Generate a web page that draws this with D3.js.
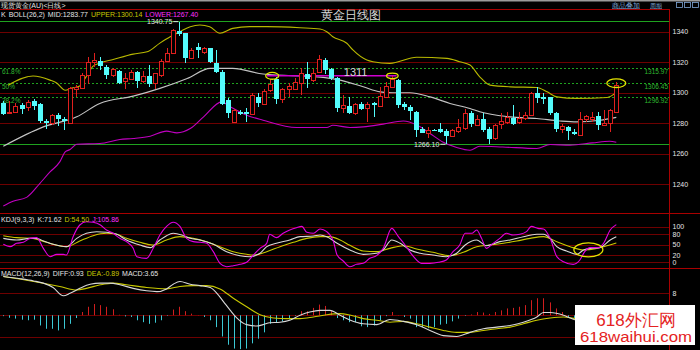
<!DOCTYPE html>
<html>
<head>
<meta charset="utf-8">
<script src="https://cdn.jsdelivr.net/npm/d3@7"></script>
<style>
  body { margin: 0; background: #000; }
  text { font-family: 'Liberation Sans', Arial, sans-serif; }
</style>
</head>
<body>
<div id="chart"></div>
<script>
// ---- data ----
const open  = [1293.3,1286.5,1287.2,1291.8,1290.3,1294.6,1292.2,1281.2,1279.7,1285.2,1282.8,1279.7,1302.3,1302.8,1311.5,1319.9,1320.9,1317.0,1311.5,1314.3,1307.6,1309.3,1313.7,1307.6,1310.9,1306.1,1311.5,1320.9,1325.8,1340.5,1338.9,1322.7,1329.7,1326.8,1329.3,1319.6,1313.7,1295.1,1280.8,1287.4,1287.0,1285.7,1296.8,1292.9,1301.6,1308.7,1295.5,1302.1,1302.8,1306.1,1312.2,1308.7,1313.0,1321.4,1315.3,1309.3,1289.6,1291.1,1286.7,1292.4,1289.6,1292.9,1291.1,1297.2,1303.4,1308.2,1292.4,1290.3,1287.4,1276.4,1273.2,1275.3,1276.0,1274.9,1271.4,1274.2,1276.4,1286.3,1279.3,1283.0,1276.4,1269.9,1279.7,1280.1,1283.4,1280.8,1283.0,1285.2,1299.9,1296.8,1296.8,1286.7,1275.8,1277.1,1274.2,1272.0,1282.4,1282.9,1284.5,1278.6,1280.1,1287.4];
const high  = [1294.4,1294.4,1293.1,1293.3,1295.1,1295.5,1293.1,1282.8,1285.7,1286.5,1284.1,1303.8,1304.9,1312.6,1323.6,1326.2,1323.2,1318.1,1315.9,1314.8,1312.6,1314.8,1314.3,1314.3,1318.1,1313.0,1321.8,1329.3,1341.8,1346.6,1339.1,1329.3,1332.4,1329.9,1329.6,1328.0,1314.8,1296.4,1289.0,1288.5,1289.8,1299.9,1299.9,1302.1,1308.9,1310.4,1302.8,1306.4,1309.3,1315.9,1320.3,1315.3,1324.7,1322.5,1315.9,1310.0,1298.4,1296.8,1293.3,1293.9,1293.9,1293.9,1303.8,1307.1,1310.9,1308.7,1293.9,1291.8,1288.0,1277.5,1277.5,1276.0,1280.1,1275.8,1276.0,1283.0,1289.1,1288.0,1285.2,1286.3,1277.5,1279.7,1286.3,1287.4,1291.8,1287.4,1287.4,1300.5,1303.4,1299.9,1297.2,1287.4,1279.3,1278.0,1275.8,1287.4,1285.2,1287.4,1287.4,1288.5,1289.0,1307.1];
const low   = [1285.2,1286.0,1286.5,1285.8,1288.0,1288.9,1280.1,1276.4,1278.6,1278.0,1275.3,1279.3,1297.2,1302.3,1305.4,1317.0,1314.8,1308.7,1310.4,1305.4,1302.1,1308.2,1303.2,1306.1,1303.8,1302.1,1310.4,1320.4,1325.3,1337.2,1319.4,1322.4,1322.5,1325.3,1319.4,1312.8,1291.8,1283.2,1280.5,1285.2,1280.8,1285.2,1290.3,1292.4,1300.3,1292.4,1292.9,1297.2,1302.1,1298.4,1302.8,1307.1,1312.6,1312.2,1308.2,1287.4,1286.3,1285.9,1285.2,1288.5,1280.8,1284.1,1290.7,1296.2,1302.8,1289.6,1288.5,1281.9,1270.9,1273.2,1269.9,1274.6,1273.2,1266.1,1270.7,1273.2,1275.3,1277.5,1278.6,1274.2,1266.4,1269.2,1276.4,1279.3,1278.6,1279.7,1281.9,1284.5,1292.9,1292.4,1285.2,1274.2,1273.2,1268.8,1272.0,1271.4,1280.8,1280.8,1275.3,1278.0,1274.2,1287.0];
const close = [1285.8,1287.0,1291.1,1289.1,1293.9,1291.1,1281.2,1279.7,1285.2,1282.4,1281.4,1302.8,1303.8,1311.5,1319.9,1321.4,1317.4,1312.0,1315.5,1306.1,1309.7,1313.7,1307.6,1310.9,1305.4,1312.6,1320.9,1326.2,1341.1,1338.3,1322.5,1328.0,1327.5,1329.1,1319.9,1313.7,1292.9,1286.3,1288.9,1286.3,1285.9,1298.4,1292.9,1301.2,1305.6,1295.7,1302.1,1304.3,1307.1,1312.6,1308.7,1313.0,1321.8,1314.8,1309.3,1289.6,1291.8,1286.7,1292.4,1289.1,1292.4,1291.3,1297.7,1304.3,1308.7,1291.8,1290.3,1287.4,1275.3,1273.6,1275.3,1275.0,1274.2,1271.4,1275.3,1277.1,1286.3,1279.3,1283.0,1275.8,1269.9,1278.6,1281.4,1283.7,1279.7,1283.4,1285.2,1299.9,1296.8,1295.7,1286.3,1276.4,1278.0,1274.2,1272.7,1282.4,1284.5,1283.9,1278.6,1280.1,1288.5,1304.9];

// BOLL(26,2) bands as [candle index, price]
const bollUpper = [[0.8,1304.9],[4.9,1310.9],[7.7,1308.2],[8.8,1306.3],[10.2,1301.6],[11.3,1303.0],[12.6,1304.3],[13.8,1311.5],[14.8,1317.4],[15.9,1319.4],[18.1,1321.8],[21.4,1325.3],[23.7,1326.8],[25.8,1332.5],[27.5,1336.7],[29.1,1340.0],[30.8,1343.3],[32.4,1344.4],[34.0,1343.3],[35.7,1339.0],[37.8,1342.2],[40.6,1343.3],[43.4,1343.3],[48.9,1342.6],[52.2,1341.8],[53.3,1340.0],[54.3,1336.7],[56.6,1332.4],[57.6,1328.0],[59.9,1321.4],[60.9,1320.3],[63.7,1319.2],[68.1,1323.2],[73.1,1322.5],[75.2,1320.3],[76.9,1318.1],[78.5,1310.4],[80.2,1304.9],[83.5,1303.8],[87.9,1303.4],[89.6,1300.5],[91.2,1297.2],[94.5,1296.2],[99.5,1296.8],[101,1300.14]];
const bollMid = [[0,1264.8],[6.6,1277.5],[12.1,1284.1],[15.9,1292.9],[21.4,1297.7],[25.8,1302.8],[30.3,1309.3],[34.1,1315.9],[37.8,1315.9],[42.8,1312.2],[52.7,1310.0],[55.5,1308.2],[59.3,1303.8],[62.1,1300.5],[64.2,1299.9],[67.0,1299.9],[70.3,1297.2],[73.6,1292.9],[76.9,1289.6],[78.5,1287.4],[83.5,1284.1],[87.9,1283.0],[91.7,1281.4],[94.5,1280.8],[98.3,1281.9],[101,1283.77]];
const bollLower = [[0,1225.5],[1.6,1228.6],[3.9,1231.4],[6.0,1240.3],[7.7,1247.9],[9.3,1254.5],[10.2,1261.1],[11.0,1262.6],[12.1,1266.1],[15.9,1266.6],[19.2,1269.2],[21.4,1269.9],[24.2,1271.4],[26.9,1274.7],[28.6,1273.6],[30.8,1276.4],[33.0,1284.1],[36.0,1293.9],[37.4,1290.7],[40.1,1285.2],[42.8,1281.9],[48.3,1277.1],[53.3,1277.1],[54.3,1278.6],[57.1,1277.1],[59.3,1277.5],[62.6,1279.3],[65.9,1281.4],[68.2,1278.6],[70.3,1273.2],[72.4,1267.6],[74.7,1264.0],[76.9,1262.2],[78.5,1264.8],[82.3,1264.3],[87.9,1263.3],[90.1,1265.9],[93.4,1265.5],[97.1,1267.0],[99.9,1268.1],[101,1267.40]];

const fibNames  = ['61.8%', '50%', '38.2%'];
const fibLevels = [1315.97, 1306.45, 1296.92];
const resistance = 1311;               // magenta line, candle 43.4 .. 64.8
const resistanceSpan = [43.4, 64.8];
const extremeLabels = [{ i: 29, text: '1340.75', at: 'high' }, { i: 73, text: '1266.10', at: 'low' }];

const priceTicks = [1240, 1260, 1280, 1300, 1320, 1340];
const kdjTicks = [0, 20, 50, 80, 100];
const macdTicks = [-8, 0, 8];
const macdLabels = [8];   // the other labels sit under the watermark

// KDJ(9,3,3) as [candle index, value]
const kLine = [[0,67.3],[2.2,62.6],[4.4,67.3],[5.5,67.3],[6.6,59.8],[8.2,50.5],[10.4,43.9],[12.1,67.3],[13.7,81.4],[15.4,86.0],[17.0,84.2],[18.7,78.6],[20.3,62.6],[22.5,48.6],[24.2,41.1],[25.8,62.6],[26.9,74.8],[28.0,81.4],[29.4,76.7],[30.8,67.3],[32.4,62.6],[34.6,50.5],[36.8,29.9],[39.0,18.6],[40.6,15.8],[42.3,25.2],[43.4,43.9],[45.0,53.3],[47.2,62.6],[48.9,72.0],[51.1,73.9],[52.2,76.7],[53.3,72.0],[55.0,53.3],[57.1,34.6],[59.3,22.4],[61.5,25.2],[62.6,34.6],[64.0,62.6],[65.4,53.3],[67.0,34.6],[68.7,25.2],[70.8,20.5],[73.0,15.8],[74.7,25.2],[76.1,48.6],[78.0,62.6],[79.6,46.7],[81.8,58.0],[83.5,62.6],[85.7,72.0],[87.9,78.6],[89.0,78.6],[90.1,67.3],[91.2,43.9],[92.8,31.7],[94.5,22.4],[95.6,34.6],[96.7,39.2],[98.3,41.1],[100.0,62.6],[101,71.62]];
const dLine = [[0,74.8],[2.2,69.2],[4.9,67.3],[7.1,56.1],[10.4,43.9],[12.6,59.8],[14.8,74.8],[17.0,81.4],[18.7,78.6],[20.3,67.3],[22.5,56.1],[24.7,48.6],[26.9,62.6],[29.1,72.0],[31.3,67.3],[33.5,58.0],[35.7,43.9],[37.9,29.9],[40.1,22.4],[41.2,20.5],[43.4,29.9],[45.6,43.9],[47.8,56.1],[50.0,67.3],[52.2,72.0],[53.8,72.0],[55.5,62.6],[57.1,47.7],[59.3,31.7],[61.5,29.9],[63.7,39.2],[65.9,46.7],[68.1,37.4],[70.8,28.0],[73.6,18.6],[75.8,28.0],[78.0,43.9],[80.2,48.6],[82.4,53.3],[84.6,59.8],[86.8,67.3],[89.0,72.0],[91.2,58.0],[93.4,43.9],[95.6,34.6],[97.8,39.2],[98.9,43.9],[101,54.5]];
const jLine = [[0,50.5],[1.1,43.9],[2.2,53.3],[3.3,56.1],[4.4,67.3],[5.5,69.2],[6.6,39.2],[7.7,15.8],[8.8,22.4],[9.9,22.4],[10.4,20.5],[11.5,72.0],[12.6,104.8],[13.7,114.0],[14.8,112.3],[16.0,104.8],[17.0,90.8],[18.1,81.4],[19.2,67.3],[20.3,58.0],[21.4,39.2],[22.0,15.8],[23.6,11.1],[24.7,39.2],[25.8,76.7],[26.9,100.8],[28.0,112.3],[29.1,100.8],[30.2,67.3],[31.3,58.0],[32.4,56.1],[33.5,53.3],[34.6,29.9],[35.7,-2.9],[36.8,-12.3],[37.9,-9.5],[39.0,-5.7],[40.1,-0.1],[41.2,20.5],[42.3,39.2],[43.4,53.3],[43.9,78.6],[45.0,69.2],[46.1,81.4],[47.2,90.8],[48.3,97.3],[49.2,100.8],[50.0,84.2],[51.1,81.4],[52.2,93.5],[53.3,86.0],[54.4,58.0],[55.0,20.5],[56.0,3.7],[57.1,-12.3],[58.2,-5.7],[59.3,-2.9],[60.4,11.1],[61.5,18.6],[62.6,39.2],[64.0,95.4],[65.1,72.0],[66.2,48.6],[67.6,15.8],[68.9,-2.9],[70.3,-2.9],[71.7,-0.1],[73.0,6.5],[74.1,29.9],[75.2,48.6],[76.1,81.4],[77.2,81.4],[78.0,90.8],[78.8,67.3],[79.6,39.2],[80.7,53.3],[81.8,67.3],[82.9,81.4],[84.0,76.7],[85.1,78.6],[86.2,86.0],[87.0,100.8],[88.1,95.4],[89.0,93.5],[90.1,67.3],[91.2,15.8],[92.3,1.8],[93.9,-5.7],[95.0,6.5],[95.8,29.9],[96.7,41.1],[98.0,41.1],[98.9,53.3],[100.0,90.8],[101,105.86]];

// MACD(12,26,9)
const diffLine = [[0,14.1],[2.8,13.3],[5.0,12.5],[6.6,11.7],[8.2,10.1],[9.9,7.1],[11.0,8.0],[12.6,9.8],[14.3,11.3],[16.0,11.7],[17.6,11.7],[19.2,11.1],[21.4,9.8],[23.6,8.9],[25.3,8.6],[26.9,9.6],[28.0,11.3],[29.1,12.3],[30.8,11.3],[32.4,10.8],[34.1,10.1],[35.2,8.0],[36.3,4.9],[37.4,1.8],[38.5,-1.0],[40.1,-3.4],[41.7,-3.9],[42.8,-3.4],[43.9,-2.7],[45.6,-2.5],[47.2,-1.8],[48.9,0.0],[50.5,1.2],[52.2,1.8],[53.8,1.8],[55.5,0.0],[57.1,-1.7],[59.3,-3.1],[61.5,-3.4],[63.7,-1.5],[65.9,-2.2],[68.1,-3.4],[70.3,-5.5],[72.5,-7.4],[74.7,-7.7],[76.9,-6.2],[79.1,-4.9],[81.3,-4.3],[83.5,-3.7],[85.7,-2.5],[87.9,-0.6],[89.0,1.0],[90.1,1.0],[92.3,0.0],[93.4,-1.0],[94.5,-1.8],[101,0.93]];
const deaLine = [[0,14.1],[5.0,12.3],[9.3,10.5],[12.1,9.2],[13.7,9.8],[16.0,11.1],[18.1,11.7],[20.3,11.1],[23.6,10.1],[26.9,9.6],[29.1,10.5],[31.3,10.8],[33.5,10.8],[35.7,9.6],[37.9,6.2],[40.1,3.1],[42.3,0.2],[44.5,-1.0],[46.7,-1.2],[48.9,-1.2],[51.1,-0.6],[53.3,0.2],[55.5,0.6],[57.1,0.1],[59.3,-1.2],[61.5,-1.8],[63.7,-2.5],[65.9,-2.2],[68.1,-3.1],[70.3,-4.3],[72.5,-5.5],[74.7,-6.2],[76.9,-6.2],[79.1,-5.5],[81.3,-4.9],[83.5,-4.3],[85.7,-3.1],[87.9,-1.8],[90.1,-1.0],[92.3,-0.6],[94.5,-1.2],[101,-0.89]];
// histogram per candle; the last few hide behind the watermark
const macdHist = [-0.3,-0.9,-1.2,-1.6,-1.8,-1.6,-3.7,-4.9,-4.9,-5.5,-4.9,-3.1,-1.0,1.2,3.1,4.1,3.7,3.1,2.2,0.2,-0.4,-0.6,-1.8,-2.5,-3.1,-2.7,-1.8,-0.2,2.1,3.1,1.5,0.6,0.1,-0.6,-1.8,-4.3,-7.7,-10.7,-12.1,-12.3,-12.1,-10.2,-8.5,-6.2,-3.1,-2.5,-2.2,-1.5,-0.2,1.5,1.5,2.7,3.9,3.4,1.5,-1.0,-1.8,-2.5,-2.5,-4.0,-4.3,-3.7,-1.8,-0.3,1.2,0.1,-0.6,-1.2,-4.3,-4.3,-4.7,-4.3,-3.4,-3.1,-2.2,-1.2,-0.2,0.3,1.2,1.0,0.5,1.2,1.8,2.5,2.7,3.1,3.7,5.5,6.2,6.2,4.7,2.5,1.2,-0.6,-1.2,null,null,null,null,null,null,3.65];

// yellow marker ellipses: [candle index, value, rx, ry, panel]
const markers = [[44.3, 1311, 6.5, 3.4, 'main'], [64.1, 1311, 5.8, 2.8, 'main'], [101, 1306.2, 9.5, 4.3, 'main'], [96.4, 35, 14.5, 7, 'kdj']];

// ---- layout ----
const W = 700, H = 350;
const AX = 669.5;
const C = {
  red: '#e0201e', cyan: '#54fcfc', grid: '#6e0000', sep: '#a80000',
  white: '#e4e4e4', yellow: '#c8c800', magenta: '#e000e0', green: '#1fa31f', greenText: '#2fb82f',
};

const x = d3.scaleLinear().domain([0, 101]).range([3.3, 616.3]);
const yP = d3.scaleLinear().domain([1240, 1340]).range([184, 31.7]);
const yK = d3.scaleLinear().domain([0, 100]).range([262.3, 226.7]);
const yM = d3.scaleLinear().domain([-8, 8]).range([337.3, 293.3]);

const svg = d3.select('#chart').append('svg')
  .attr('width', W).attr('height', H)
  .style('display', 'block');
svg.append('rect').attr('width', W).attr('height', H).attr('fill', '#000');

const defs = svg.append('defs');
defs.append('clipPath').attr('id', 'clipMain').append('rect')
  .attr('x', 0).attr('y', 10).attr('width', AX).attr('height', 203);
defs.append('clipPath').attr('id', 'clipKdj').append('rect')
  .attr('x', 0).attr('y', 214).attr('width', AX).attr('height', 54);
defs.append('clipPath').attr('id', 'clipMacd').append('rect')
  .attr('x', 0).attr('y', 269).attr('width', AX).attr('height', 81);

const hline = (y, x2, color, g = svg) => g.append('line')
  .attr('x1', 0).attr('x2', x2)
  .attr('y1', Math.round(y) + 0.5).attr('y2', Math.round(y) + 0.5)
  .attr('stroke', color).attr('stroke-width', 1);

// top strip + header
svg.append('rect').attr('width', W).attr('height', 1.5).attr('fill', '#9a9a9a');
svg.append('text').attr('x', 1).attr('y', 8)
  .attr('font-size', 7).attr('fill', C.white)
  .attr('font-family', "'Noto Sans CJK SC', sans-serif")
  .text('现货黄金(AU)<日线>');
svg.append('text').attr('x', 612).attr('y', 7.5)
  .attr('font-size', 7).attr('fill', '#7ea6d6')
  .attr('font-family', "'Noto Sans CJK SC', sans-serif")
  .attr('text-decoration', 'underline').text('商品叠加');
svg.append('text').attr('x', 650).attr('y', 7.5)
  .attr('font-size', 6).attr('fill', '#7ea6d6')
  .attr('font-family', "'Noto Sans CJK SC', sans-serif")
  .attr('text-decoration', 'underline').text('周期');
[676, 684, 692].forEach(bx => {
  svg.append('rect').attr('x', bx + 0.5).attr('y', 2.5).attr('width', 6).attr('height', 5)
    .attr('fill', 'none').attr('stroke', '#7ea6d6').attr('stroke-width', 0.8);
});

// grid and panel separators
hline(9, AX, C.sep);
priceTicks.forEach(t => hline(yP(t), AX, C.grid));
kdjTicks.forEach(t => hline(yK(t), AX, C.grid));
macdTicks.forEach(t => hline(yM(t), AX, C.grid));
hline(213, W, C.sep);
hline(268, W, C.sep);
svg.append('line').attr('x1', AX).attr('x2', AX).attr('y1', 9).attr('y2', H)
  .attr('stroke', C.sep);

// right axes
const styleAxis = g => {
  g.select('.domain').remove();
  g.selectAll('text').attr('fill', C.white).attr('font-size', 7)
    .attr('font-family', "'Liberation Sans', Arial, sans-serif");
};
const fmt = d3.format('d');
svg.append('g').attr('transform', `translate(${AX},0)`)
  .call(d3.axisRight(yP).tickValues(priceTicks).tickFormat(fmt).tickSize(0).tickPadding(3)).call(styleAxis);
svg.append('g').attr('transform', `translate(${AX},0)`)
  .call(d3.axisRight(yK).tickValues(kdjTicks).tickFormat(fmt).tickSize(0).tickPadding(3)).call(styleAxis);
svg.append('g').attr('transform', `translate(${AX},0)`)
  .call(d3.axisRight(yM).tickValues(macdLabels).tickFormat(fmt).tickSize(0).tickPadding(3)).call(styleAxis);

// ---- main panel ----
const main = svg.append('g').attr('clip-path', 'url(#clipMain)');

// extreme lines
hline(yP(d3.max(high)) - 1, AX, C.green, main);
hline(yP(d3.min(low)), AX, C.green, main);

// fibonacci dotted levels
fibLevels.forEach((lv, k) => {
  const yy = Math.round(yP(lv)) + 0.5;
  main.append('line').attr('x1', 0).attr('x2', AX).attr('y1', yy).attr('y2', yy)
    .attr('stroke', C.green).attr('stroke-dasharray', '2,2');
  main.append('text').attr('x', 2).attr('y', yy + 5)
    .attr('font-size', 6.5).attr('fill', C.greenText).text(fibNames[k]);
  main.append('text').attr('x', AX - 1.5).attr('y', yy + 5)
    .attr('text-anchor', 'end').attr('font-size', 6.5).attr('fill', C.greenText)
    .text(lv.toFixed(2));
});

// bollinger bands
const bandLine = d3.line().x(d => x(d[0])).y(d => yP(d[1])).curve(d3.curveMonotoneX);
[[bollUpper, '#b8b800'], [bollMid, '#c4c4c4'], [bollLower, '#c000c0']].forEach(([data, col]) => {
  main.append('path').attr('d', bandLine(data))
    .attr('fill', 'none').attr('stroke', col).attr('stroke-width', 1.1);
});

// resistance line
main.append('line')
  .attr('x1', x(resistanceSpan[0])).attr('x2', x(resistanceSpan[1]))
  .attr('y1', yP(resistance)).attr('y2', yP(resistance))
  .attr('stroke', '#d000d0').attr('stroke-width', 1.5);

// candles: red hollow when up, cyan filled when down
const candles = d3.range(open.length).map(i => ({ i, o: open[i], h: high[i], l: low[i], c: close[i] }));
const cg = main.append('g').attr('shape-rendering', 'crispEdges');
candles.forEach(d => {
  const cx = Math.round(x(d.i));
  const up = d.c >= d.o;
  const top = yP(Math.max(d.o, d.c)), bot = yP(Math.min(d.o, d.c));
  if (up) {
    cg.append('line').attr('x1', cx + 0.5).attr('x2', cx + 0.5)
      .attr('y1', yP(d.h)).attr('y2', top).attr('stroke', C.red);
    cg.append('line').attr('x1', cx + 0.5).attr('x2', cx + 0.5)
      .attr('y1', bot).attr('y2', yP(d.l)).attr('stroke', C.red);
    cg.append('rect').attr('x', cx - 1.5).attr('y', Math.round(top) + 0.5)
      .attr('width', 4).attr('height', Math.max(1, Math.round(bot - top)))
      .attr('fill', '#000').attr('stroke', C.red);
  } else {
    cg.append('line').attr('x1', cx + 0.5).attr('x2', cx + 0.5)
      .attr('y1', yP(d.h)).attr('y2', yP(d.l)).attr('stroke', C.cyan);
    cg.append('rect').attr('x', cx - 2).attr('y', Math.round(top))
      .attr('width', 5).attr('height', Math.max(1, Math.round(bot - top)))
      .attr('fill', C.cyan);
  }
});

// extreme labels with small pointers
extremeLabels.forEach(e => {
  const yy = e.at === 'high' ? yP(high[e.i]) : yP(low[e.i]);
  const xx = x(e.i);
  main.append('text').attr('x', xx - 7).attr('y', yy + 2.5)
    .attr('text-anchor', 'end').attr('font-size', 7).attr('fill', C.white).text(e.text);
  main.append('line').attr('x1', xx - 6).attr('x2', xx - 1).attr('y1', yy).attr('y2', yy)
    .attr('stroke', C.white);
});

main.append('text').attr('x', x(56.1)).attr('y', yP(resistance) + 0.5)
  .attr('font-size', 11).attr('fill', '#d8d8d8')
  .attr('font-family', "'DejaVu Serif', 'Liberation Serif', serif")
  .text(String(resistance));

// title
svg.append('text').attr('x', 351).attr('y', 19)
  .attr('text-anchor', 'middle').attr('font-size', 12).attr('fill', '#dadada')
  .attr('font-family', "'Noto Sans CJK SC', sans-serif")
  .text('黄金日线图');

// ---- KDJ panel ----
const kdj = svg.append('g').attr('clip-path', 'url(#clipKdj)');
const kdjLine = d3.line().x(d => x(d[0])).y(d => yK(d[1])).curve(d3.curveMonotoneX);
[[dLine, C.yellow], [kLine, '#d8d8d8'], [jLine, C.magenta]].forEach(([data, col]) => {
  kdj.append('path').attr('d', kdjLine(data))
    .attr('fill', 'none').attr('stroke', col).attr('stroke-width', 1.1);
});

// ---- MACD panel ----
const macd = svg.append('g').attr('clip-path', 'url(#clipMacd)');
macdHist.forEach((v, i) => {
  if (v == null) return;
  const cx = Math.round(x(i)) + 0.5;
  macd.append('line').attr('x1', cx).attr('x2', cx)
    .attr('y1', yM(0)).attr('y2', yM(v))
    .attr('stroke', v >= 0 ? '#d01e1e' : '#3cc8d4').attr('stroke-width', 1);
});
const mLine = d3.line().x(d => x(d[0])).y(d => yM(d[1])).curve(d3.curveMonotoneX);
[[deaLine, C.yellow], [diffLine, '#d8d8d8']].forEach(([data, col]) => {
  macd.append('path').attr('d', mLine(data))
    .attr('fill', 'none').attr('stroke', col).attr('stroke-width', 1.1);
});

// marker ellipses
markers.forEach(([i, v, rx, ry, panel]) => {
  svg.append('ellipse')
    .attr('cx', x(i)).attr('cy', panel === 'main' ? yP(v) : yK(v))
    .attr('rx', rx).attr('ry', ry)
    .attr('fill', 'none').attr('stroke', '#e4e400').attr('stroke-width', 1.3);
});

// ---- indicator headers ----
const header = (y, items) => {
  let cx = 1;
  items.forEach(([txt, col]) => {
    const t = svg.append('text').attr('x', cx).attr('y', y)
      .attr('font-size', 7).attr('fill', col).text(txt);
    cx += t.node().getComputedTextLength() + 3;
  });
};
const last = a => a[a.length - 1][1];
header(16.5, [['K', C.white], ['BOLL(26,2)', C.white],
  [`MID:${last(bollMid).toFixed(2)}`, C.white],
  [`UPPER:${last(bollUpper).toFixed(2)}`, C.yellow],
  [`LOWER:${last(bollLower).toFixed(2)}`, '#ff30ff']]);
header(221.5, [['KDJ(9,3,3)', C.white],
  [`K:${last(kLine).toFixed(2)}`, C.white],
  [`D:${last(dLine).toFixed(2)}`, C.yellow],
  [`J:${last(jLine).toFixed(2)}`, '#ff30ff']]);
header(275.5, [['MACD(12,26,9)', C.white],
  [`DIFF:${last(diffLine).toFixed(2)}`, C.white],
  [`DEA:${last(deaLine).toFixed(2)}`, C.yellow],
  [`MACD:${macdHist[macdHist.length - 1].toFixed(2)}`, C.white]]);

// ---- watermark ----
svg.append('rect').attr('x', 575).attr('y', 305).attr('width', 120).attr('height', 40).attr('fill', '#fff');
svg.append('text').attr('x', 636).attr('y', 326)
  .attr('text-anchor', 'middle').attr('font-size', 17).attr('fill', '#e42222')
  .attr('font-family', "'Noto Sans CJK SC', sans-serif")
  .text('618外汇网');
svg.append('text').attr('x', 636).attr('y', 341.5)
  .attr('text-anchor', 'middle').attr('font-size', 14).attr('fill', '#e42222')
  .attr('font-family', "'DejaVu Sans Mono', 'Liberation Mono', monospace")
  .attr('textLength', 112).attr('lengthAdjust', 'spacingAndGlyphs')
  .text('618waihui.com');
</script>
</body>
</html>
